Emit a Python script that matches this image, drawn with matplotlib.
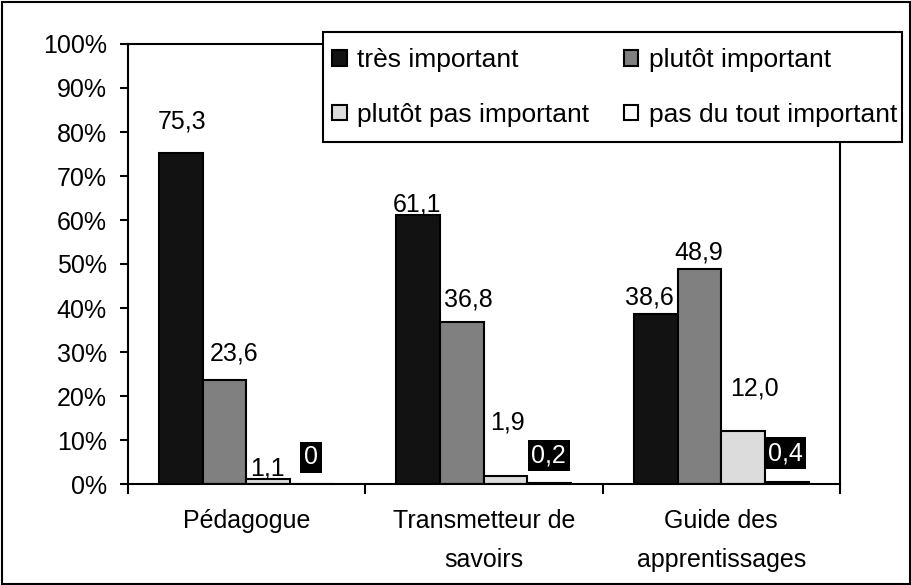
import numpy as np
import matplotlib.pyplot as plt
from matplotlib.patches import Rectangle

plt.rcParams['font.family'] = ['Liberation Sans', 'DejaVu Sans']

categories = ["Pédagogue", "Transmetteur de\nsavoirs", "Guide des\napprentissages"]
series_names = ["très important", "plutôt important",
                "plutôt pas important", "pas du tout important"]
tres = [75.3, 61.1, 38.6]
plutot = [23.6, 36.8, 48.9]
plutot_pas = [1.1, 1.9, 12.0]
pas_du_tout = [0.0, 0.2, 0.4]
value_labels = [["75,3", "61,1", "38,6"],
                ["23,6", "36,8", "48,9"],
                ["1,1", "1,9", "12,0"],
                ["0", "0,2", "0,4"]]

series = [tres, plutot, plutot_pas, pas_du_tout]
colors = ["#121212", "#808080", "#dcdcdc", "#ffffff"]

# hand placed label offsets (pixels, from bar top centre)
label_dx = [[1.5, -1.5, -6], [10, 6.5, -1], [-1, 2, 11], [-1, -0.6, -1.6]]
label_dy = [[24, 3.5, 10], [20, 16, 9.5], [3.5, 46, 36], [26.5, 27.6, 29]]

W, H = 911, 585
fig = plt.figure(figsize=(W / 100, H / 100), dpi=100)
ax = fig.add_axes([127.5 / W, 1 - 484 / H, (840 - 127.5) / W, (484 - 44) / H])

fs = 18
x = np.arange(len(categories))
bw = 0.184
bars = []
for i, vals in enumerate(series):
    pos = x + (i - 1.5) * bw
    bars.append(ax.bar(pos, vals, bw, color=colors[i], edgecolor="black",
                       linewidth=1.5, label=series_names[i], zorder=2))
    for j, v in enumerate(vals):
        dx = label_dx[i][j] * 0.72
        dy = label_dy[i][j] * 0.72
        if i == 3:
            ax.annotate(value_labels[i][j], (pos[j], v), xytext=(dx, dy),
                        textcoords="offset points", ha="center", va="center",
                        fontsize=fs, color="white",
                        bbox=dict(boxstyle="square,pad=0.15", fc="black", ec="none"))
        else:
            ax.annotate(value_labels[i][j], (pos[j], v), xytext=(dx, dy),
                        textcoords="offset points", ha="center", va="baseline",
                        fontsize=fs, color="black")

ax.set_xlim(-0.5, 2.5)
ax.set_ylim(0, 100)
ax.set_yticks(np.arange(0, 101, 10))
ax.set_yticklabels([f"{t}%" for t in range(0, 101, 10)], fontsize=fs)
ax.set_xticks(x)
ax.set_xticklabels(categories, fontsize=fs, linespacing=1.8)
ax.set_xticks([-0.5, 0.5, 1.5, 2.5], minor=True)
ax.tick_params(axis="x", which="major", length=0, pad=18)
ax.tick_params(axis="x", which="minor", length=7, width=1.5, direction="out")
ax.tick_params(axis="y", length=6, width=1.5, direction="out", pad=9)
for s in ax.spines.values():
    s.set_linewidth(1.5)

# legend box drawn separately (taller than matplotlib's uniform padding)
fig.patches.append(Rectangle((322.7 / W, 1 - 141.7 / H), 579 / W, 110 / H,
                             transform=fig.transFigure, facecolor="white",
                             edgecolor="black", linewidth=1.5, zorder=4))

# legend filled column-wise -> reorder so rows read like the original
order = [0, 2, 1, 3]
leg = fig.legend([bars[k] for k in order], [series_names[k] for k in order],
                 loc="upper left", bbox_to_anchor=(322.7 / W, 1 - 39 / H),
                 ncol=2, fontsize=19, frameon=False, borderaxespad=0,
                 handlelength=0.55, handleheight=0.55, handletextpad=0.4,
                 columnspacing=1.3, borderpad=0.36, labelspacing=1.15)

fig.patches.append(Rectangle((1.5 / W, 1.5 / H), (W - 3) / W, (H - 3) / H,
                             transform=fig.transFigure, fill=False,
                             edgecolor="black", linewidth=1.5))

fig.savefig("out.png", dpi=100)
